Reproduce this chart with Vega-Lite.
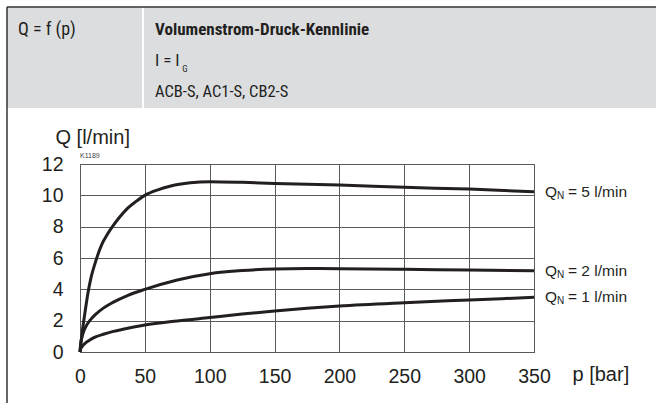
{
  "$schema": "https://vega.github.io/schema/vega-lite/v6.json",
  "width": 454,
  "height": 188,
  "autosize": {"type": "none"},
  "padding": {"left": 80, "top": 164, "right": 122, "bottom": 51},
  "background": "white",
  "config": {
    "view": {"stroke": "#5a5a5a", "strokeWidth": 1},
    "font": "Liberation Sans"
  },
  "resolve": {"axis": {"x": "independent", "y": "independent"}},
  "datasets": {
    "curves": [
      {"p": 0, "Q": 0, "series": "5"},
      {"p": 1, "Q": 0.75, "series": "5"},
      {"p": 2, "Q": 1.45, "series": "5"},
      {"p": 3, "Q": 2.05, "series": "5"},
      {"p": 4.5, "Q": 2.9, "series": "5"},
      {"p": 6.2, "Q": 3.8, "series": "5"},
      {"p": 8.5, "Q": 4.75, "series": "5"},
      {"p": 11, "Q": 5.5, "series": "5"},
      {"p": 13.5, "Q": 6.15, "series": "5"},
      {"p": 17, "Q": 6.9, "series": "5"},
      {"p": 21, "Q": 7.5, "series": "5"},
      {"p": 25, "Q": 8, "series": "5"},
      {"p": 30, "Q": 8.55, "series": "5"},
      {"p": 37, "Q": 9.2, "series": "5"},
      {"p": 43, "Q": 9.6, "series": "5"},
      {"p": 50, "Q": 10, "series": "5"},
      {"p": 60, "Q": 10.35, "series": "5"},
      {"p": 70, "Q": 10.6, "series": "5"},
      {"p": 85, "Q": 10.8, "series": "5"},
      {"p": 100, "Q": 10.87, "series": "5"},
      {"p": 125, "Q": 10.83, "series": "5"},
      {"p": 150, "Q": 10.76, "series": "5"},
      {"p": 200, "Q": 10.66, "series": "5"},
      {"p": 250, "Q": 10.51, "series": "5"},
      {"p": 300, "Q": 10.4, "series": "5"},
      {"p": 350, "Q": 10.23, "series": "5"},
      {"p": 0, "Q": 0, "series": "2"},
      {"p": 0.5, "Q": 0.55, "series": "2"},
      {"p": 1.5, "Q": 0.95, "series": "2"},
      {"p": 3, "Q": 1.35, "series": "2"},
      {"p": 5, "Q": 1.7, "series": "2"},
      {"p": 8, "Q": 2.05, "series": "2"},
      {"p": 12, "Q": 2.4, "series": "2"},
      {"p": 18, "Q": 2.8, "series": "2"},
      {"p": 25, "Q": 3.15, "series": "2"},
      {"p": 37, "Q": 3.62, "series": "2"},
      {"p": 50, "Q": 4, "series": "2"},
      {"p": 75, "Q": 4.6, "series": "2"},
      {"p": 100, "Q": 5, "series": "2"},
      {"p": 125, "Q": 5.2, "series": "2"},
      {"p": 150, "Q": 5.3, "series": "2"},
      {"p": 175, "Q": 5.33, "series": "2"},
      {"p": 200, "Q": 5.32, "series": "2"},
      {"p": 250, "Q": 5.28, "series": "2"},
      {"p": 300, "Q": 5.23, "series": "2"},
      {"p": 350, "Q": 5.19, "series": "2"},
      {"p": 0, "Q": 0, "series": "1"},
      {"p": 0.5, "Q": 0.18, "series": "1"},
      {"p": 1.5, "Q": 0.33, "series": "1"},
      {"p": 3, "Q": 0.48, "series": "1"},
      {"p": 5, "Q": 0.63, "series": "1"},
      {"p": 8, "Q": 0.79, "series": "1"},
      {"p": 12, "Q": 0.96, "series": "1"},
      {"p": 18, "Q": 1.13, "series": "1"},
      {"p": 25, "Q": 1.3, "series": "1"},
      {"p": 35, "Q": 1.48, "series": "1"},
      {"p": 50, "Q": 1.72, "series": "1"},
      {"p": 75, "Q": 1.98, "series": "1"},
      {"p": 100, "Q": 2.2, "series": "1"},
      {"p": 125, "Q": 2.42, "series": "1"},
      {"p": 150, "Q": 2.62, "series": "1"},
      {"p": 175, "Q": 2.79, "series": "1"},
      {"p": 200, "Q": 2.94, "series": "1"},
      {"p": 250, "Q": 3.15, "series": "1"},
      {"p": 300, "Q": 3.32, "series": "1"},
      {"p": 350, "Q": 3.49, "series": "1"}
    ]
  },
  "layer": [
    {
      "data": {"values": [{}]},
      "mark": {"type": "rect", "fill": "#dcdddf", "clip": false},
      "encoding": {
        "x": {"datum": -56.28, "type": "quantitative", "axis": null},
        "x2": {"datum": 444.07},
        "y": {"datum": 22.02, "type": "quantitative", "axis": null},
        "y2": {"datum": 15.57}
      }
    },
    {
      "data": {"values": [{}]},
      "mark": {"type": "rule", "stroke": "white", "strokeWidth": 2},
      "encoding": {
        "x": {"datum": 48.57, "type": "quantitative", "axis": null},
        "y": {"datum": 22.02, "type": "quantitative", "axis": null},
        "y2": {"datum": 15.57}
      }
    },
    {
      "data": {"values": [{}]},
      "mark": {"type": "rule", "stroke": "#333333", "strokeWidth": 1.5},
      "encoding": {
        "x": {"datum": -56.28, "type": "quantitative", "axis": null},
        "y": {"datum": 22.02, "type": "quantitative", "axis": null},
        "y2": {"datum": -3.3}
      }
    },
    {
      "data": {"values": [{}]},
      "mark": {"type": "rule", "stroke": "#333333", "strokeWidth": 1.5},
      "encoding": {
        "x": {"datum": -56.28, "type": "quantitative", "axis": null},
        "x2": {"datum": 444.07},
        "y": {"datum": 22.02, "type": "quantitative", "axis": null}
      }
    },
    {
      "data": {"values": [{}]},
      "mark": {"type": "text", "text": "Q = f (p)", "align": "left", "baseline": "alphabetic", "font": "Liberation Sans Narrow, Roboto Condensed, DejaVu Sans Condensed, sans-serif", "fontSize": 18, "fill": "#231f20"},
      "encoding": {
        "x": {"datum": -47.8, "type": "quantitative", "axis": null},
        "y": {"datum": 20.23, "type": "quantitative", "axis": null}
      }
    },
    {
      "data": {"values": [{}]},
      "mark": {"type": "text", "text": "Volumenstrom-Druck-Kennlinie", "align": "left", "baseline": "alphabetic", "font": "Liberation Sans Narrow, Roboto Condensed, DejaVu Sans Condensed, sans-serif", "fontWeight": "bold", "fontSize": 17, "fill": "#231f20"},
      "encoding": {
        "x": {"datum": 57.82, "type": "quantitative", "axis": null},
        "y": {"datum": 20.23, "type": "quantitative", "axis": null}
      }
    },
    {
      "data": {"values": [{}]},
      "mark": {"type": "text", "text": "I = I", "align": "left", "baseline": "alphabetic", "font": "Liberation Sans Narrow, Roboto Condensed, DejaVu Sans Condensed, sans-serif", "fontSize": 17, "fill": "#231f20"},
      "encoding": {
        "x": {"datum": 57.82, "type": "quantitative", "axis": null},
        "y": {"datum": 18.26, "type": "quantitative", "axis": null}
      }
    },
    {
      "data": {"values": [{}]},
      "mark": {"type": "text", "text": "G", "align": "left", "baseline": "alphabetic", "font": "Liberation Sans Narrow, Roboto Condensed, DejaVu Sans Condensed, sans-serif", "fontSize": 9, "fill": "#231f20"},
      "encoding": {
        "x": {"datum": 78.9, "type": "quantitative", "axis": null},
        "y": {"datum": 17.87, "type": "quantitative", "axis": null}
      }
    },
    {
      "data": {"values": [{}]},
      "mark": {"type": "text", "text": "ACB-S, AC1-S, CB2-S", "align": "left", "baseline": "alphabetic", "font": "Liberation Sans Narrow, Roboto Condensed, DejaVu Sans Condensed, sans-serif", "fontSize": 16.5, "fill": "#231f20"},
      "encoding": {
        "x": {"datum": 57.82, "type": "quantitative", "axis": null},
        "y": {"datum": 16.28, "type": "quantitative", "axis": null}
      }
    },
    {
      "data": {"values": [{}]},
      "mark": {"type": "text", "text": "K1189", "align": "left", "baseline": "alphabetic", "fontSize": 7, "dy": -6, "fill": "#444444"},
      "encoding": {
        "x": {"datum": 0, "type": "quantitative", "axis": null},
        "y": {"datum": 12, "type": "quantitative", "axis": null}
      }
    },
    {
      "data": {"name": "curves"},
      "mark": {"type": "line", "interpolate": "monotone", "stroke": "#231f20", "strokeWidth": 3},
      "encoding": {
        "x": {
          "field": "p", "type": "quantitative",
          "scale": {"domain": [0, 350], "nice": false, "zero": true},
          "axis": {
            "values": [0, 50, 100, 150, 200, 250, 300, 350],
            "grid": true, "gridColor": "#5a5a5a", "gridWidth": 1,
            "domain": false, "ticks": false,
            "labelFlush": false, "labelOverlap": false,
            "labelFontSize": 19.5, "labelPadding": 15, "labelColor": "#231f20",
            "title": "p [bar]", "titleFontSize": 20, "titleFontWeight": "normal", "titleColor": "#231f20",
            "titleAlign": "left", "titleBaseline": "alphabetic", "titleX": 492, "titleY": 28
          }
        },
        "y": {
          "field": "Q", "type": "quantitative",
          "scale": {"domain": [0, 12], "nice": false, "zero": true},
          "axis": {
            "values": [0, 2, 4, 6, 8, 10, 12],
            "grid": true, "gridColor": "#5a5a5a", "gridWidth": 1,
            "domain": false, "ticks": false,
            "labelFlush": false, "labelOverlap": false,
            "labelFontSize": 19.5, "labelPadding": 17, "labelColor": "#231f20",
            "title": "Q [l/min]", "titleFontSize": 20, "titleFontWeight": "normal", "titleColor": "#231f20",
            "titleAngle": 0, "titleAlign": "left", "titleBaseline": "alphabetic", "titleX": -25, "titleY": -21
          }
        },
        "detail": {"field": "series"}
      }
    },
    {
      "data": {"name": "curves"},
      "transform": [{"filter": "datum.p == 350"}],
      "mark": {"type": "text", "text": "Q", "align": "left", "baseline": "middle", "dx": 11, "fontSize": 15.5, "fill": "#231f20"},
      "encoding": {
        "x": {"field": "p", "type": "quantitative", "axis": null},
        "y": {"field": "Q", "type": "quantitative", "axis": null}
      }
    },
    {
      "data": {"name": "curves"},
      "transform": [{"filter": "datum.p == 350"}],
      "mark": {"type": "text", "text": "N", "align": "left", "baseline": "middle", "dx": 23, "dy": 4, "fontSize": 10, "fill": "#231f20"},
      "encoding": {
        "x": {"field": "p", "type": "quantitative", "axis": null},
        "y": {"field": "Q", "type": "quantitative", "axis": null}
      }
    },
    {
      "data": {"name": "curves"},
      "transform": [
        {"filter": "datum.p == 350"},
        {"calculate": "'= ' + datum.series + ' l/min'", "as": "lab"}
      ],
      "mark": {"type": "text", "align": "left", "baseline": "middle", "dx": 34, "fontSize": 15.5, "fill": "#231f20"},
      "encoding": {
        "x": {"field": "p", "type": "quantitative", "axis": null},
        "y": {"field": "Q", "type": "quantitative", "axis": null},
        "text": {"field": "lab"}
      }
    }
  ]
}
